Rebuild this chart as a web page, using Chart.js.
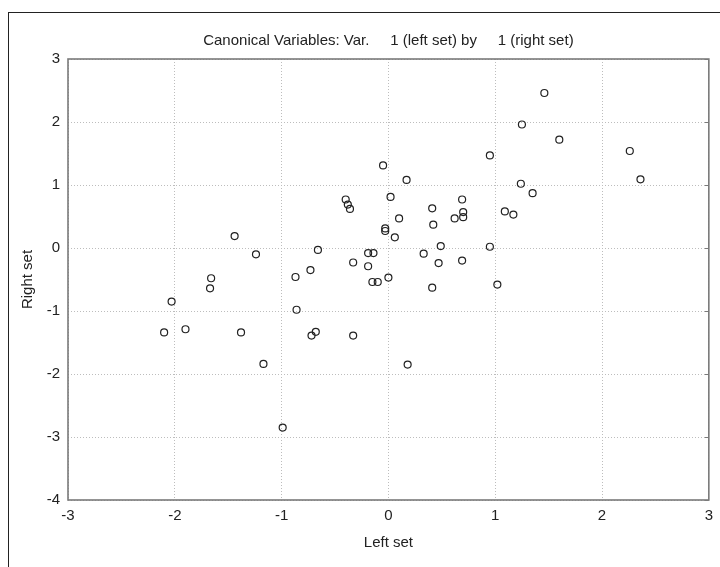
<!DOCTYPE html>
<html>
<head>
<meta charset="utf-8">
<script src="https://cdn.jsdelivr.net/npm/chart.js@4/dist/chart.umd.min.js"></script>
<style>
  html, body { margin: 0; padding: 0; background: #fff; overflow: hidden; }
  #frame { position: absolute; left: 8px; top: 12px; width: 800px; height: 700px; border: 1.5px solid #222; }
  #wrap { position: absolute; left: 0; top: 0; width: 720px; height: 567px; }
</style>
</head>
<body>
<div id="frame"></div>
<div id="wrap"><canvas id="chart" width="720" height="567"></canvas></div>
<script>
// Canonical scores
let leftSet = [1.46, 1.25, 1.60, 0.95, 2.26, 2.36, -0.05, 0.17, 1.24, 1.35,
  -0.40, -0.38, -0.36, 0.02, 0.69, 0.41, 1.09, 1.17, 0.70, 0.70,
  0.62, 0.10, 0.42, -0.03, -0.03, 0.06, -1.44, -0.66, -1.24, -0.19,
  -0.14, 0.33, 0.49, 0.95, -1.66, -0.33, 0.47, -0.19, 0.69, -0.73,
  -0.87, 0.00, -1.67, -0.15, -0.10, 0.41, 1.02, -2.03, -0.86, -2.10,
  -1.90, -1.38, -0.72, -0.68, -0.33, -1.17, 0.18, -0.99];
let rightSet = [2.46, 1.96, 1.72, 1.47, 1.54, 1.09, 1.31, 1.08, 1.02, 0.87,
  0.77, 0.69, 0.62, 0.81, 0.77, 0.63, 0.58, 0.53, 0.57, 0.49,
  0.47, 0.47, 0.37, 0.31, 0.27, 0.17, 0.19, -0.03, -0.10, -0.08,
  -0.08, -0.09, 0.03, 0.02, -0.48, -0.23, -0.24, -0.29, -0.20, -0.35,
  -0.46, -0.47, -0.64, -0.54, -0.54, -0.63, -0.58, -0.85, -0.98, -1.34,
  -1.29, -1.34, -1.39, -1.33, -1.39, -1.84, -1.85, -2.85];

let xTicks = [-3, -2, -1, 0, 1, 2, 3];
let yTicks = [-4, -3, -2, -1, 0, 1, 2, 3];

let titleText = 'Canonical Variables: Var.     1 (left set) by     1 (right set)';

let points = leftSet.map((x, i) => ({ x: x, y: rightSet[i] }));

const font = { family: "'Liberation Sans', Arial, sans-serif", size: 15, weight: 'normal' };

// box round the plot area, small inward ticks on the right, and the title centred over the plot
const plotBox = {
  id: 'plotBox',
  beforeDatasetsDraw(chart) {
    const { ctx, chartArea: a, scales } = chart;
    ctx.save();
    ctx.strokeStyle = '#7a7a7a';
    ctx.lineWidth = 1.6;
    ctx.strokeRect(a.left, a.top, a.right - a.left, a.bottom - a.top);
    ctx.lineWidth = 1;
    yTicks.forEach(v => {
      let py = Math.round(scales.y.getPixelForValue(v)) + 0.5;
      ctx.beginPath();
      ctx.moveTo(a.right - 4, py);
      ctx.lineTo(a.right, py);
      ctx.stroke();
    });
    ctx.fillStyle = '#222';
    ctx.font = '15px ' + font.family;
    ctx.textAlign = 'center';
    ctx.textBaseline = 'middle';
    ctx.fillText(titleText, (a.left + a.right) / 2, 41);
    ctx.restore();
  }
};

let ctx = document.getElementById('chart').getContext('2d');
new Chart(ctx, {
  type: 'scatter',
  data: {
    datasets: [{
      data: points,
      pointStyle: 'circle',
      pointRadius: 3.5,
      pointBorderWidth: 1.2,
      borderColor: '#222',
      backgroundColor: 'rgba(0,0,0,0)'
    }]
  },
  options: {
    responsive: false,
    animation: false,
    layout: { padding: { left: 0, right: 6, top: 59, bottom: 0 } },
    plugins: {
      legend: { display: false },
      tooltip: { enabled: false },
      title: { display: false }
    },
    scales: {
      x: {
        type: 'linear',
        min: -3,
        max: 3,
        afterBuildTicks: s => { s.ticks = xTicks.map(v => ({ value: v })); },
        afterFit: s => { s.height = 67; },
        grid: { color: '#bdbdbd', drawTicks: false },
        border: { display: false, dash: [1, 2] },
        ticks: { color: '#222', font: font, padding: 7 },
        title: { display: true, text: 'Left set', color: '#222', font: font, padding: { top: 0, bottom: 15 } }
      },
      y: {
        type: 'linear',
        min: -4,
        max: 3,
        afterBuildTicks: s => { s.ticks = yTicks.map(v => ({ value: v })); },
        afterFit: s => { s.width = 68; },
        grid: { color: '#bdbdbd', drawTicks: false },
        border: { display: false, dash: [1, 2] },
        ticks: { color: '#222', font: font, padding: 8 },
        title: { display: true, text: 'Right set', color: '#222', font: font, padding: { top: 19, bottom: 0 } }
      }
    }
  },
  plugins: [plotBox]
});
</script>
</body>
</html>
